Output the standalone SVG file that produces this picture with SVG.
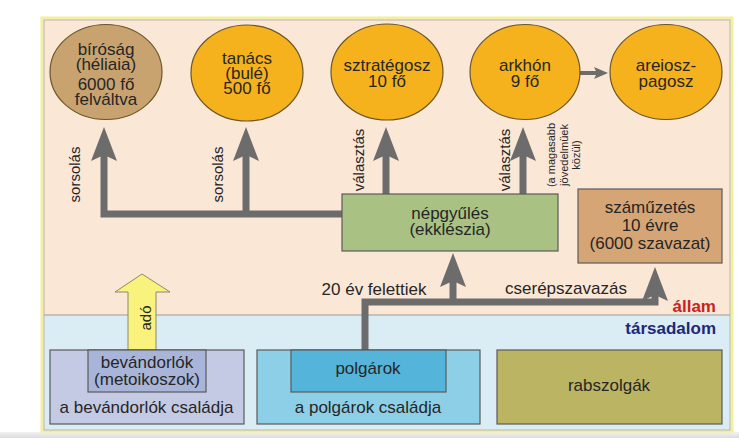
<svg xmlns="http://www.w3.org/2000/svg" width="739" height="438" viewBox="0 0 739 438">
<defs>
<style>
text{font-family:"Liberation Sans",Arial,sans-serif;fill:#262626;}
.t17{font-size:17px;text-anchor:middle;}
.t15{font-size:15px;text-anchor:middle;}
.t11{font-size:11px;text-anchor:middle;}
.ell{fill:#f6b21c;stroke:#6a5528;stroke-width:1.2;}
.box{stroke:#5a5a5a;stroke-width:1.2;}
.conn{fill:none;stroke:#6c6c6c;stroke-width:7;stroke-linejoin:miter;}
</style>
<marker id="ah" markerUnits="userSpaceOnUse" markerWidth="36" markerHeight="28" refX="6" refY="13" orient="auto" viewBox="0 0 36 28">
<path d="M0,0 L34,13 L0,26 L6,13 z" fill="#6c6c6c"/>
</marker>
<marker id="ahs" markerUnits="userSpaceOnUse" markerWidth="16" markerHeight="12" refX="3" refY="6" orient="auto" viewBox="0 0 16 12">
<path d="M0,0 L14,6 L0,12 L3,6 z" fill="#6c6c6c"/>
</marker>
<linearGradient id="bot" x1="0" y1="0" x2="0" y2="1">
<stop offset="0" stop-color="#f2f2f2"/>
<stop offset="1" stop-color="#dcdcdc"/>
</linearGradient>
</defs>
<rect x="0" y="0" width="739" height="438" fill="#ffffff"/>
<rect x="0" y="432" width="739" height="6" fill="url(#bot)"/>

<g id="background">
<rect x="41.5" y="17.5" width="691" height="414" fill="#f6f2a6" stroke="#f3ee9c" stroke-width="2"/>
<rect x="44" y="20" width="686" height="295" fill="#fbe7d6"/>
<rect x="44" y="315" width="686" height="115" fill="#dbedf4"/>
<line x1="44" y1="315" x2="730" y2="315" stroke="#9a9a9a" stroke-width="1"/>
<rect x="44" y="20" width="686" height="410" fill="none" stroke="#b5b5b5" stroke-width="1"/>
<text x="716" y="312" style="font-size:17px;font-weight:bold;fill:#c9231f;text-anchor:end">állam</text>
<text x="716" y="334" style="font-size:17px;font-weight:bold;fill:#1e2878;text-anchor:end">társadalom</text>
</g>

<g id="connectors">
<path class="conn" d="M342,214 H104 V155" marker-end="url(#ah)"/>
<path class="conn" d="M246,214 V155" marker-end="url(#ah)"/>
<path class="conn" d="M386,194 V155" marker-end="url(#ah)"/>
<path class="conn" d="M523,194 V155" marker-end="url(#ah)"/>
<path class="conn" d="M365,350 V302 H655 V295" marker-end="url(#ah)"/>
<path class="conn" d="M453,302 V281" marker-end="url(#ah)"/>
<path d="M580,73 H597" fill="none" stroke="#6c6c6c" stroke-width="4" marker-end="url(#ahs)"/>
<polygon points="128,350 128,292 115,292 142,274 170,292 156,292 156,350" fill="#f9f27c" stroke="#8a8a6a" stroke-width="1"/>
<text class="t15" transform="translate(80,174.5) rotate(-90)">sorsolás</text>
<text class="t15" transform="translate(223,174.5) rotate(-90)">sorsolás</text>
<text class="t15" transform="translate(364,160) rotate(-90)">választás</text>
<text class="t15" transform="translate(510,160) rotate(-90)">választás</text>
<text class="t11" transform="translate(555,155) rotate(-90)">(a magasabb</text>
<text class="t11" transform="translate(567.5,155) rotate(-90)">jövedelmüek</text>
<text class="t11" transform="translate(580,155) rotate(-90)">közül)</text>
<text class="t15" transform="translate(151,318) rotate(-90)">adó</text>
<text class="t17" x="374" y="295">20 év felettiek</text>
<text class="t17" x="566" y="294">cserépszavazás</text>
</g>

<g id="biro">
<ellipse cx="106" cy="72" rx="56" ry="47.5" fill="#c9a36f" stroke="#6a5528" stroke-width="1.2"/>
<text class="t17" x="106" y="55">bíróság</text>
<text class="t17" x="106" y="70">(héliaia)</text>
<text class="t17" x="106" y="90">6000 fő</text>
<text class="t17" x="106" y="105">felváltva</text>
</g>
<g id="tanacs">
<ellipse class="ell" cx="247" cy="73" rx="56" ry="48"/>
<text class="t17" x="247" y="64">tanács</text>
<text class="t17" x="247" y="79">(bulé)</text>
<text class="t17" x="247" y="94">500 fő</text>
</g>
<g id="sztrategosz">
<ellipse class="ell" cx="387" cy="72" rx="56" ry="48"/>
<text class="t17" x="387" y="71">sztratégosz</text>
<text class="t17" x="387" y="87">10 fő</text>
</g>
<g id="arkhon">
<ellipse class="ell" cx="525" cy="72" rx="55" ry="47.5"/>
<text class="t17" x="525" y="71">arkhón</text>
<text class="t17" x="525" y="87">9 fő</text>
</g>
<g id="areiopagosz">
<ellipse class="ell" cx="666" cy="72" rx="56" ry="47.5"/>
<text class="t17" x="666" y="71">areiosz-</text>
<text class="t17" x="666" y="87">pagosz</text>
</g>
<g id="nepgyules">
<rect class="box" x="342" y="194" width="216" height="57" fill="#a9c284"/>
<text class="t17" x="450" y="219">népgyűlés</text>
<text class="t17" x="450" y="235">(ekklészia)</text>
</g>
<g id="szamuzetes">
<rect class="box" x="578" y="189" width="144" height="74" fill="#d5a575"/>
<text class="t17" x="650" y="213">száműzetés</text>
<text class="t17" x="650" y="231">10 évre</text>
<text class="t17" x="650" y="249">(6000 szavazat)</text>
</g>
<g id="bevandorlok">
<rect class="box" x="50" y="350" width="194" height="74" fill="#c4cae3"/>
<rect class="box" x="88" y="350" width="118" height="42" fill="#a9b5d8"/>
<text class="t17" x="147" y="368">bevándorlók</text>
<text class="t17" x="147" y="385">(metoikoszok)</text>
<text class="t17" x="146.5" y="413">a bevándorlók családja</text>
</g>
<g id="polgarok">
<rect class="box" x="257" y="350" width="223" height="74" fill="#8dcfe6"/>
<rect class="box" x="291" y="350" width="155" height="42" fill="#55b4da"/>
<text class="t17" x="368" y="374">polgárok</text>
<text class="t17" x="368" y="413">a polgárok családja</text>
</g>
<g id="rabszolgak">
<rect class="box" x="497" y="350" width="225" height="74" fill="#bab463"/>
<text class="t17" x="609" y="391">rabszolgák</text>
</g>
</svg>
